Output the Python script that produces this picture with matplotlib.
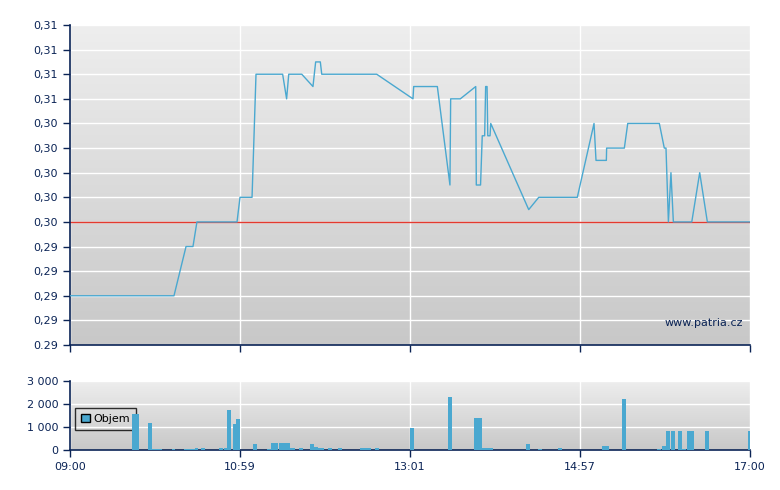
import matplotlib
matplotlib.use("Agg")
import matplotlib.pyplot as plt
from matplotlib.patches import Patch
import numpy as np

# price line: minutes after 09:00 and price
price_t = [0, 73.4, 81.9, 86.8, 89.6, 117.9, 120.0, 128.5, 131.3, 150.1, 152.9, 154.4,
           163.6, 171.5, 173.4, 176.7, 177.7, 216.5, 242.1, 242.6, 259.3, 268.2, 268.7,
           275.5, 286.4, 286.8, 289.8, 291.0, 292.7, 293.4, 294.4, 294.9, 296.5, 297.0,
           323.8, 330.9, 358.1, 369.9, 371.3, 378.6, 378.8, 391.3, 393.7, 416.0, 419.5,
           420.7, 422.4, 424.2, 425.9, 438.9, 444.5, 449.9, 480]
price_v = [0.290, 0.290, 0.294, 0.294, 0.296, 0.296, 0.298, 0.298, 0.308, 0.308, 0.306, 0.308,
           0.308, 0.307, 0.309, 0.309, 0.308, 0.308, 0.306, 0.307, 0.307, 0.299, 0.306,
           0.306, 0.307, 0.299, 0.299, 0.303, 0.303, 0.307, 0.307, 0.303, 0.303, 0.304,
           0.297, 0.298, 0.298, 0.304, 0.301, 0.301, 0.302, 0.302, 0.304, 0.304, 0.302,
           0.302, 0.296, 0.300, 0.296, 0.296, 0.300, 0.296, 0.296]
prev_close = 0.296

# volume bars
vol_t = [43.8, 46.2, 55.1, 57.9, 59.6, 62.1, 71.8, 80.5, 82.9, 85.4, 87.9, 92.5, 105.2, 108.4,
         110.8, 115.4, 117.5, 129.2, 139.4, 141.9, 144.4, 147.5, 150.0, 152.5, 154.2, 156.0,
         161.6, 169.4, 172.2, 174.4, 176.5, 182.1, 189.2, 204.7, 207.2, 209.6, 215.3, 240.0,
         266.8, 285.2, 288.0, 290.8, 293.3, 295.8, 321.9, 330.4, 344.5, 375.5, 377.6, 389.6,
         414.4, 417.9, 420.7, 424.2, 429.2, 432.0, 435.5, 437.6, 448.2, 478.6]
vol_v = [1560, 1560, 1170, 40, 60, 60, 50, 50, 50, 50, 90, 90, 90, 90,
         1730, 1125, 1340, 260, 40, 300, 300, 300, 300, 300, 90, 90,
         90, 260, 130, 90, 90, 90, 90, 90, 90, 90, 90, 950,
         2290, 1390, 1390, 90, 90, 90, 260, 50, 90, 170, 170, 2200,
         50, 170, 820, 820, 820, 50, 820, 820, 820, 820]

xtick_pos = [0, 120, 240, 360, 480]
xtick_lab = ["09:00", "10:59", "13:01", "14:57", "17:00"]
price_ticks = [0.286 + 0.002 * i for i in range(14)]
vol_ticks = [0, 1000, 2000, 3000]
vol_labels = ["0", "1 000", "2 000", "3 000"]

navy = "#0b2456"
blue = "#4aa8d0"

plt.rcParams['font.family'] = ['DejaVu Sans']
fig = plt.figure(figsize=(7.8, 4.9), dpi=100)
ax1 = fig.add_axes([70 / 780, 1 - 345 / 490, 680 / 780, 320 / 490])
ax2 = fig.add_axes([70 / 780, 1 - 450 / 490, 680 / 780, 69.3 / 490])

grad = np.linspace(0, 1, 256).reshape(-1, 1)
for ax in (ax1, ax2):
    ax.imshow(grad, cmap=matplotlib.colors.LinearSegmentedColormap.from_list(
        "g", ["#eeeeee", "#c8c8c8"]), aspect='auto', extent=[0, 1, 0, 1],
        transform=ax.transAxes, zorder=0)
    ax.set_xlim(0, 480)
    ax.set_xticks(xtick_pos)
    ax.grid(True, color='white', lw=1, zorder=1)
    ax.set_axisbelow(True)
    for s in ('top', 'right'):
        ax.spines[s].set_visible(False)
    for s in ('left', 'bottom'):
        ax.spines[s].set_color(navy)
        ax.spines[s].set_linewidth(1.2)
    ax.tick_params(colors=navy, labelcolor=navy, labelsize=8, length=5, width=1)

ax1.set_ylim(0.286, 0.312)
ax1.set_yticks(price_ticks)
ylab = [f"{v:.2f}".replace('.', ',') for v in price_ticks]
ylab[0] = "0.29"
ax1.set_yticklabels(ylab)
ax1.set_xticklabels([])
ax1.axhline(prev_close, color="#e43a2f", lw=1, zorder=2)
ax1.plot(price_t, price_v, color=blue, lw=1, zorder=3)
ax1.text(0.99, 0.069, "www.patria.cz", transform=ax1.transAxes, ha='right', va='center',
         color=navy, fontsize=8, zorder=4)

ax2.bar(vol_t, vol_v, width=2.6, align='edge', color=blue, zorder=3)
ax2.set_ylim(0, 3000)
ax2.set_yticks(vol_ticks)
ax2.set_yticklabels(vol_labels)
ax2.set_xticklabels(xtick_lab)
leg = ax2.legend(handles=[Patch(facecolor=blue, edgecolor='black', label='Objem')],
                 loc='center left', bbox_to_anchor=(0.007, 0.45), fancybox=False,
                 edgecolor='black', fontsize=8, handlelength=0.8,
                 handleheight=0.8, borderpad=0.55, handletextpad=0.3, borderaxespad=0)
leg.get_frame().set_facecolor('none')
leg.get_frame().set_linewidth(1)
leg.set_zorder(2)

fig.savefig("out.png", dpi=100)
